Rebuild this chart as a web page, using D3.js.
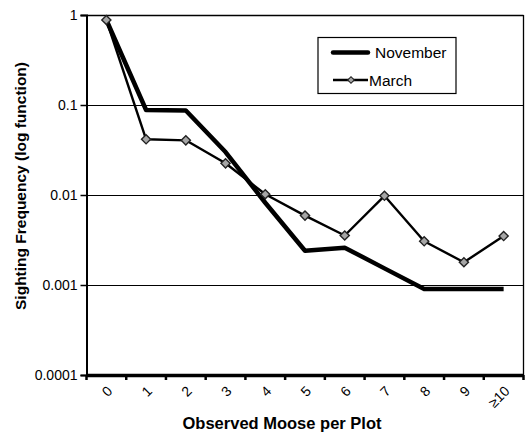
<!DOCTYPE html>
<html><head><meta charset="utf-8">
<script src="https://cdn.jsdelivr.net/npm/d3@7"></script>
<style>
body{margin:0;background:#fff;}
text{font-family:"Liberation Sans",Arial,sans-serif;}
</style></head>
<body><svg id="c" width="525" height="433"></svg>
<script>
const categories = ["0","1","2","3","4","5","6","7","8","9","\u226510"];
const november = [0.88,0.088,0.087,0.030,0.0082,0.0024,0.0026,0.00153,0.0009,0.0009,0.0009];
const march = [0.88,0.0416,0.0405,0.0225,0.0102,0.0059,0.00355,0.0098,0.00306,0.00179,0.0035];
const yTicks = [1,0.1,0.01,0.001,0.0001];
const yTickLabels = ["1","0.1","0.01","0.001","0.0001"];

const svg = d3.select("#c");
const L=86.5, R=523.5, T=15, B=375;
const x = d3.scaleBand().domain(categories).range([L,R]);
const y = d3.scaleLog().domain([0.0001,1]).range([B,T]);
const cx = d => x(d)+x.bandwidth()/2;

// gridlines
svg.append("g").selectAll("line").data([0.1,0.01,0.001]).join("line")
  .attr("x1",L).attr("x2",R).attr("y1",d=>Math.round(y(d))+0.5).attr("y2",d=>Math.round(y(d))+0.5)
  .attr("stroke","#000").attr("stroke-width",1.2);
// frame top/right
svg.append("line").attr("x1",L).attr("x2",R).attr("y1",T+0.5).attr("y2",T+0.5).attr("stroke","#000").attr("stroke-width",1.3);
svg.append("line").attr("x1",R).attr("x2",R).attr("y1",T).attr("y2",B).attr("stroke","#000").attr("stroke-width",1.3);

// y axis
const yAxis = d3.axisLeft(y).tickValues(yTicks).tickSize(6).tickPadding(3)
  .tickFormat((d,i)=>yTickLabels[i]);
const gy = svg.append("g").attr("transform",`translate(${L},0)`).call(yAxis);
gy.select(".domain").attr("stroke-width",2);
gy.selectAll(".tick line").attr("stroke-width",1.5);
gy.selectAll(".tick text").attr("font-size",14).attr("fill","#000").attr("font-family","Liberation Sans, Arial, sans-serif");

// x axis
const xAxis = d3.axisBottom(x).tickSize(0).tickPadding(0);
const gx = svg.append("g").attr("transform",`translate(0,${B})`).call(xAxis);
gx.select(".domain").attr("stroke-width",3.5);
gx.selectAll(".tick text").attr("font-size",14).attr("fill","#000")
  .attr("font-family","Liberation Sans, Arial, sans-serif")
  .attr("text-anchor","end").attr("dy",0).attr("y",0)
  .attr("transform","translate(7,17) rotate(-45)");
// boundary tick marks
const bounds = categories.map(c=>x(c)).concat([R]);
svg.append("g").selectAll("line").data(bounds).join("line")
  .attr("x1",d=>d).attr("x2",d=>d).attr("y1",B).attr("y2",B+5)
  .attr("stroke","#000").attr("stroke-width",2.5);

// lines
const line = d3.line().x((d,i)=>cx(categories[i])).y(d=>y(d));
svg.append("path").datum(november).attr("d",line).attr("fill","none")
  .attr("stroke","#000").attr("stroke-width",4.5).attr("stroke-linejoin","round");
svg.append("path").datum(march).attr("d",line).attr("fill","none")
  .attr("stroke","#000").attr("stroke-width",2.4).attr("stroke-linejoin","round");
svg.append("g").selectAll("path").data(march).join("path")
  .attr("transform",(d,i)=>`translate(${cx(categories[i])},${y(d)}) rotate(45)`)
  .attr("d",d3.symbol().type(d3.symbolSquare).size(42))
  .attr("fill","#a6a6a6").attr("stroke","#222").attr("stroke-width",1.4);

// legend
const lg = svg.append("g");
lg.append("rect").attr("x",318).attr("y",37.5).attr("width",138).attr("height",56)
  .attr("fill","#fff").attr("stroke","#000").attr("stroke-width",1.2);
lg.append("line").attr("x1",333).attr("x2",368).attr("y1",52.5).attr("y2",52.5)
  .attr("stroke","#000").attr("stroke-width",4.5).attr("stroke-linecap","round");
lg.append("text").attr("x",375).attr("y",58).attr("font-size",15.5).text("November");
lg.append("line").attr("x1",333).attr("x2",368).attr("y1",80).attr("y2",80)
  .attr("stroke","#000").attr("stroke-width",2.4);
lg.append("path").attr("transform","translate(351,80) rotate(45)")
  .attr("d",d3.symbol().type(d3.symbolSquare).size(22))
  .attr("fill","#a6a6a6").attr("stroke","#222").attr("stroke-width",1);
lg.append("text").attr("x",369).attr("y",85.5).attr("font-size",15.5).text("March");

// axis titles
svg.append("text").attr("transform","translate(26,186) rotate(-90)")
  .attr("text-anchor","middle").attr("font-size",15.5).attr("font-weight","bold")
  .text("Sighting Frequency (log function)");
svg.append("text").attr("x",282).attr("y",429).attr("text-anchor","middle")
  .attr("font-size",16.5).attr("font-weight","bold").text("Observed Moose per Plot");
</script></body></html>
